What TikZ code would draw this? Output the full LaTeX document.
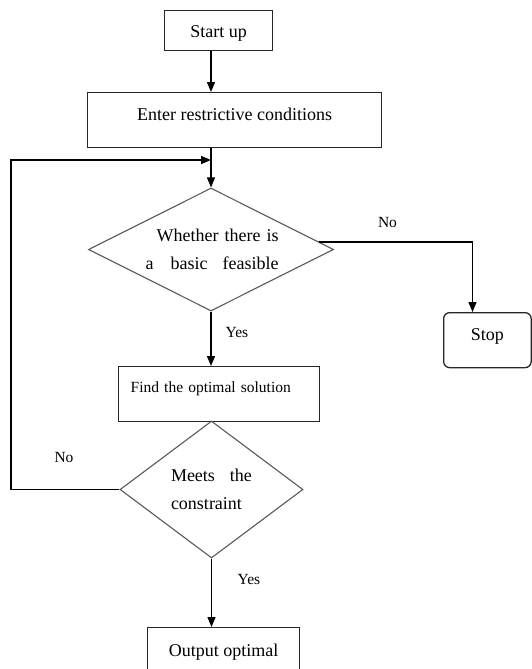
\documentclass[tikz,border=0pt]{standalone}
\usepackage{fontspec}
\setmainfont{Liberation Serif}
\usetikzlibrary{shapes.geometric,arrows.meta,calc}
\begin{document}
\begin{tikzpicture}[x=1pt,y=-1pt,
  box/.style={draw=black!85, line width=1.3pt, rectangle, inner sep=0pt,
    anchor=north west, font=\fontsize{18}{21}\selectfont},
  dia/.style={draw=black!65, line width=1.1pt, diamond, inner sep=0pt,
    font=\fontsize{18}{28}\selectfont},
  arr/.style={-{Triangle[length=10pt,width=8pt]}, line width=1.3pt, draw=black},
  lbl/.style={font=\fontsize{15.5}{18}\selectfont, inner sep=0pt}]
\useasboundingbox (0,0) rectangle (531,669);

\node[box, minimum width=108pt, text height=27pt, text depth=13pt] (start) at (164,10) {Start up};
\node[box, minimum width=294pt, text height=28pt, text depth=27pt] (enter) at (87,92) {Enter restrictive conditions};
\node[dia, minimum width=245pt, minimum height=123pt, aspect=2, text width=135pt, align=right] (d1) at (211,249.5)
  {Whether there is\\a\hspace{17pt}basic\hspace{15pt}feasible};
\node[box, inner xsep=12pt, text width=177pt, align=left, text height=26pt, text depth=29pt,
  font=\fontsize{15.5}{18}\selectfont] (find) at (118,366) {Find the optimal solution};
\node[dia, minimum width=183pt, minimum height=137pt, aspect=1.4, text width=81pt, align=left] (d2) at (211.5,489.5)
  {Meets\hspace{15pt}the\\constraint};
\node[box, minimum width=87.5pt, rounded corners=6pt, text height=28pt, text depth=27pt] (stop) at (443,312) {Stop};
\node[box, minimum width=152pt, text height=29pt, text depth=13pt] (out) at (147,627) {Output optimal};

\node[lbl] (no1) at (387.5,222.5) {No};
\node[lbl] (yes1) at (237,332) {Yes};
\node[lbl] (no2) at (64,457) {No};
\node[lbl] (yes2) at (249,579) {Yes};

\draw[arr] (start.south -| d1.north) -- (enter.north -| d1.north);
\draw[arr] (enter.south -| d1.north) -- (d1.north);
\draw[arr] (d1.south) -- (d1.south |- find.north);
\draw[arr] (d2.south) -- (d2.south |- out.north);
\coordinate (fb) at (11,160);
\draw[arr] (d2.west) -| (fb) -- (fb -| d1.north);
\draw[arr] (d1.4.3) -| ([xshift=29.5pt]stop.north west);
\end{tikzpicture}
\end{document}
